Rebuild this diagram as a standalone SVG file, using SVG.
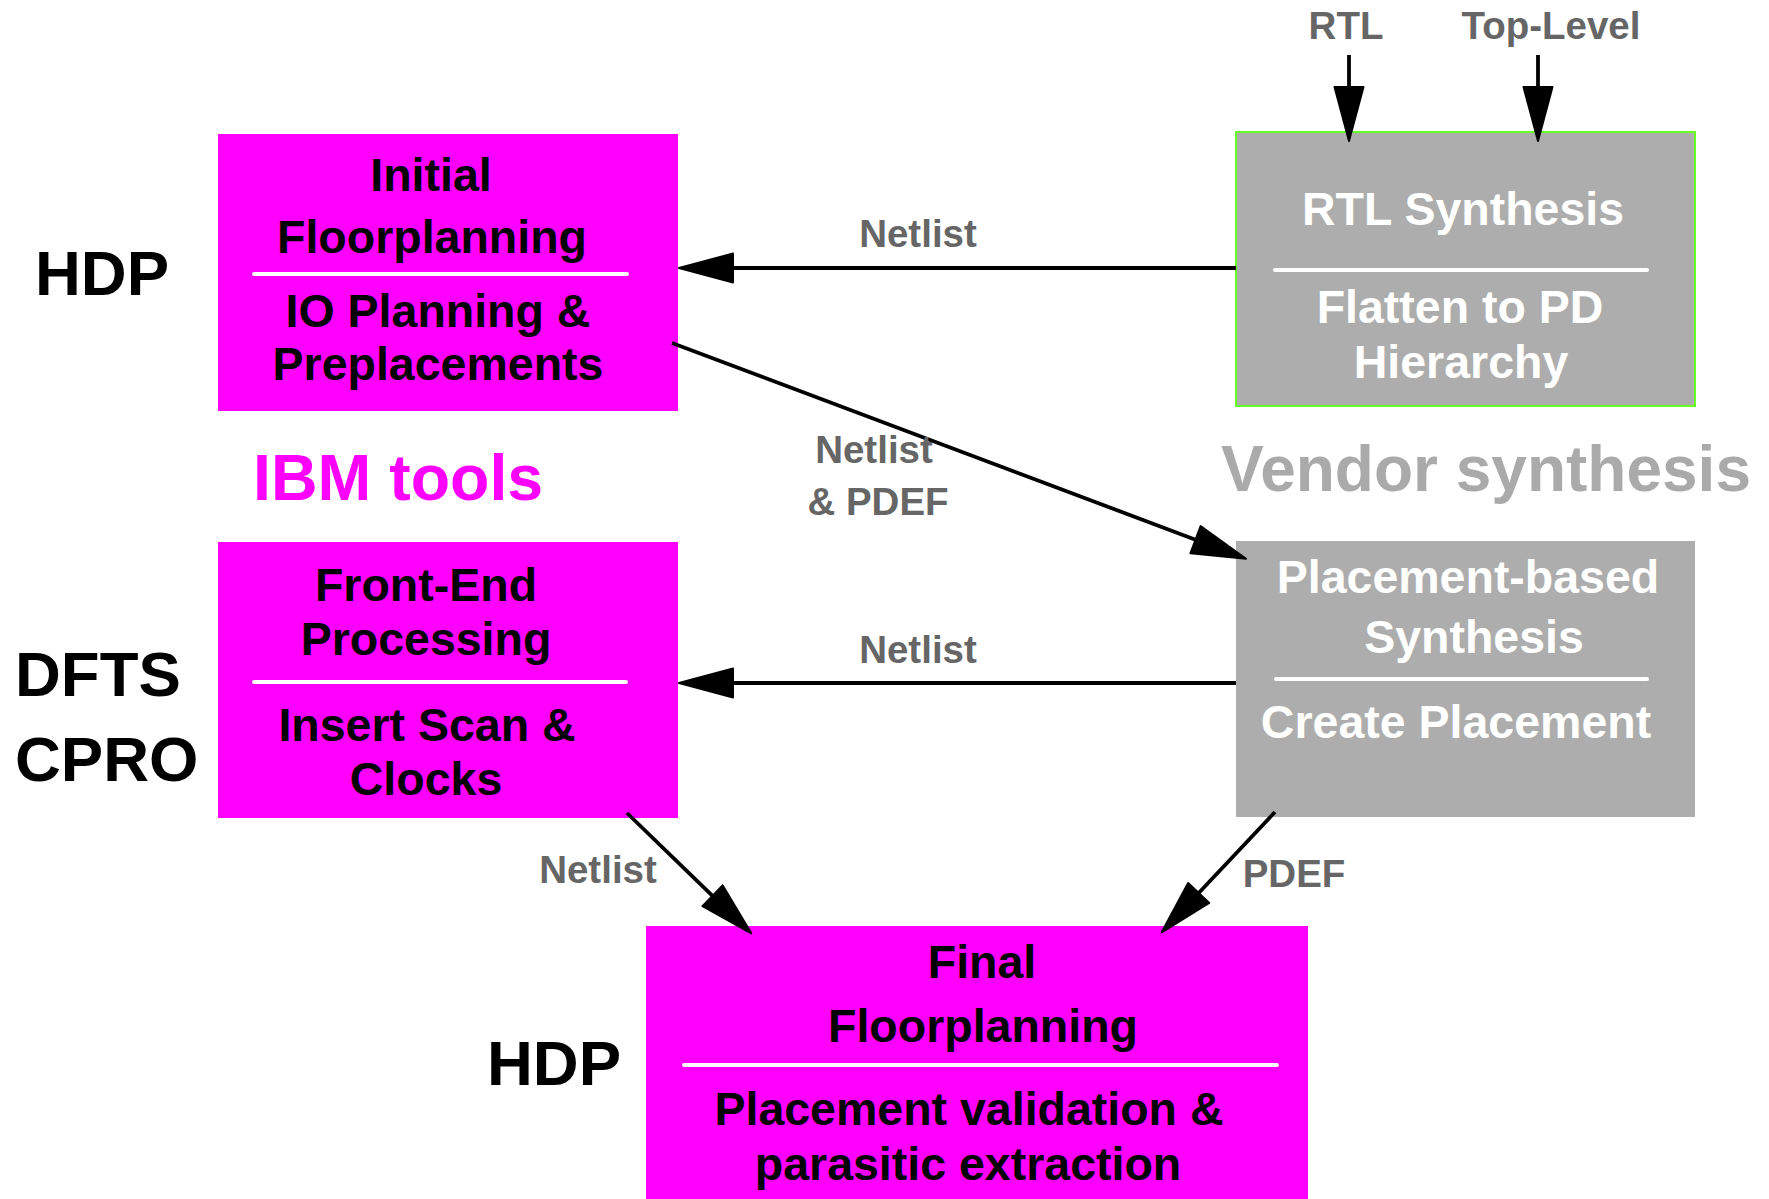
<svg xmlns="http://www.w3.org/2000/svg" width="1769" height="1199" viewBox="0 0 1769 1199">
  <style>
    text { font-family: "Liberation Sans", Arial, sans-serif; font-weight: bold; }
    .pink { fill: #ff00ff; }
    .grey { fill: #adadad; }
    .sep { stroke: #ffffff; stroke-width: 4; stroke-linecap: round; }
    .blk { fill: #000000; font-size: 46.5px; text-anchor: middle; }
    .wht { fill: #ffffff; font-size: 46.5px; text-anchor: middle; }
    .tool { fill: #000000; font-size: 63.5px; }
    .lbl { fill: #666666; font-size: 38.5px; text-anchor: middle; }
    .conn { stroke: #000000; stroke-width: 3.8; fill: none; marker-end: url(#head); }
  </style>
  <defs>
    <marker id="head" markerUnits="userSpaceOnUse" markerWidth="60" markerHeight="34" refX="1" refY="16" orient="auto" overflow="visible">
      <path d="M1,1.5 L55,16 L1,30.5 z" fill="#000000" stroke="#000000" stroke-width="2" stroke-linejoin="round"/>
    </marker>
  </defs>

  <rect width="1769" height="1199" fill="#ffffff"/>

  <!-- tool labels -->
  <g id="side-labels">
    <text class="tool" x="35" y="295">HDP</text>
    <text class="tool" x="15" y="696">DFTS</text>
    <text class="tool" x="15" y="781">CPRO</text>
    <text class="tool" x="487" y="1085">HDP</text>
    <text x="253" y="500" font-size="64.5" fill="#ff00ff">IBM tools</text>
    <text x="1221" y="491" font-size="64" fill="#aaaaaa">Vendor synthesis</text>
  </g>

  <!-- Initial floorplanning -->
  <g id="initial-floorplanning">
    <rect class="pink" x="218" y="134" width="460" height="277"/>
    <text class="blk" x="431" y="191">Initial</text>
    <text class="blk" x="432" y="253">Floorplanning</text>
    <line class="sep" x1="254" y1="274" x2="627" y2="274"/>
    <text class="blk" x="438" y="327">IO Planning &amp;</text>
    <text class="blk" x="438" y="380">Preplacements</text>
  </g>

  <!-- RTL synthesis -->
  <g id="rtl-synthesis">
    <rect class="grey" x="1236" y="132" width="459" height="274" stroke="#66ff22" stroke-width="2"/>
    <text class="wht" x="1463" y="225">RTL Synthesis</text>
    <line class="sep" x1="1275" y1="270" x2="1647" y2="270"/>
    <text class="wht" x="1460" y="323">Flatten to PD</text>
    <text class="wht" x="1461" y="378">Hierarchy</text>
  </g>

  <!-- Front-end processing -->
  <g id="front-end-processing">
    <rect class="pink" x="218" y="542" width="460" height="276"/>
    <text class="blk" x="426" y="601">Front-End</text>
    <text class="blk" x="426" y="655">Processing</text>
    <line class="sep" x1="254" y1="682" x2="626" y2="682"/>
    <text class="blk" x="427" y="741">Insert Scan &amp;</text>
    <text class="blk" x="426" y="795">Clocks</text>
  </g>

  <!-- Placement-based synthesis -->
  <g id="placement-synthesis">
    <rect class="grey" x="1236" y="541" width="459" height="276"/>
    <text class="wht" x="1468" y="593">Placement-based</text>
    <text class="wht" x="1474" y="653">Synthesis</text>
    <line class="sep" x1="1276" y1="679" x2="1647" y2="679"/>
    <text class="wht" x="1456" y="738">Create Placement</text>
  </g>

  <!-- Final floorplanning -->
  <g id="final-floorplanning">
    <rect class="pink" x="646" y="926" width="662" height="280"/>
    <text class="blk" x="982" y="978">Final</text>
    <text class="blk" x="983" y="1042">Floorplanning</text>
    <line class="sep" x1="684" y1="1065" x2="1277" y2="1065"/>
    <text class="blk" x="969" y="1125">Placement validation &amp;</text>
    <text class="blk" x="968" y="1180">parasitic extraction</text>
  </g>

  <!-- connectors -->
  <g id="connectors">
    <line class="conn" x1="1349" y1="55" x2="1349" y2="87"/>
    <line class="conn" x1="1538" y1="55" x2="1538" y2="87"/>
    <line class="conn" x1="1236" y1="268" x2="733" y2="268"/>
    <line class="conn" x1="672" y1="343" x2="1195.5" y2="539.7"/>
    <line class="conn" x1="1236" y1="683" x2="733" y2="683"/>
    <line class="conn" x1="627" y1="813" x2="712.5" y2="895.8"/>
    <line class="conn" x1="1275" y1="812" x2="1198.7" y2="893"/>
  </g>

  <!-- connector labels -->
  <g id="connector-labels">
    <text class="lbl" x="1346" y="39">RTL</text>
    <text class="lbl" x="1551" y="39">Top-Level</text>
    <text class="lbl" x="918" y="247">Netlist</text>
    <text class="lbl" x="874" y="463">Netlist</text>
    <text class="lbl" x="878" y="515">&amp; PDEF</text>
    <text class="lbl" x="918" y="663">Netlist</text>
    <text class="lbl" x="598" y="883">Netlist</text>
    <text class="lbl" x="1294" y="887">PDEF</text>
  </g>
</svg>
